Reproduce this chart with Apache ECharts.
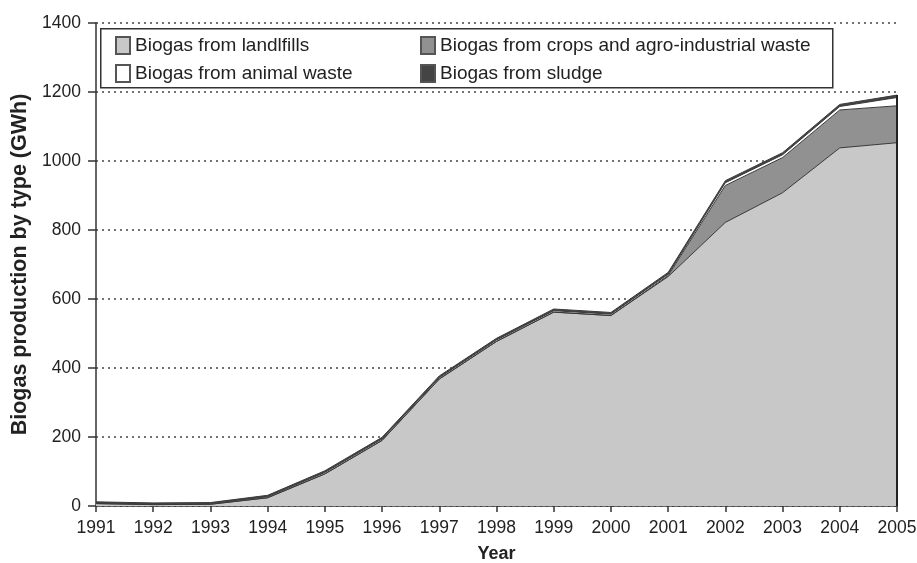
<!DOCTYPE html>
<html><head><meta charset="utf-8">
<script src="https://cdn.jsdelivr.net/npm/echarts@6/dist/echarts.min.js"></script>
<style>html,body{margin:0;padding:0;background:#fff}#c{width:917px;height:563px}</style>
</head><body><div id="c"></div>
<script>
const years = ['1991','1992','1993','1994','1995','1996','1997','1998','1999','2000','2001','2002','2003','2004','2005'];
const landfills = [7, 4, 5, 24, 93, 190, 368, 477, 562, 552, 665, 822, 908, 1038, 1053];
const crops     = [0, 0, 0, 0, 0, 0, 0, 0, 0, 0, 3, 107, 102, 110, 107];
const animal    = [2, 2, 2, 3, 4, 4, 4, 4, 4, 4, 4, 8, 8, 10, 24];
const sludge    = [3, 3, 3, 4, 5, 5, 5, 5, 5, 5, 5, 6, 6, 6, 7];
const yTicks = [0, 200, 400, 600, 800, 1000, 1200, 1400];

const names = ['Biogas from landlfills', 'Biogas from crops and agro-industrial waste', 'Biogas from animal waste', 'Biogas from sludge'];
const fills = ['#c8c8c8', '#919191', '#ffffff', '#444444'];
const seriesData = [landfills, crops, animal, sludge];
const lastIdx = years.length - 1;
const total = landfills[lastIdx] + crops[lastIdx] + animal[lastIdx] + sludge[lastIdx];
const font = 'Liberation Sans, Arial, sans-serif';

const series = seriesData.map((d, i) => ({
  name: names[i], type: 'line', stack: 'all', data: d, symbol: 'none',
  lineStyle: { color: '#3a3a3a', width: 1 },
  itemStyle: { color: fills[i], borderColor: '#555', borderWidth: 1 },
  areaStyle: { color: fills[i], opacity: 1 },
  z: 2
}));
series[0].markLine = {
  symbol: 'none', silent: true, label: { show: false },
  lineStyle: { color: '#222', width: 2, type: 'solid' },
  data: [[{ coord: [years[lastIdx], 0] }, { coord: [years[lastIdx], total] }]]
};

const legendCommon = {
  orient: 'vertical', itemWidth: 14, itemHeight: 17, itemGap: 9,
  icon: 'rect', textStyle: { fontFamily: font, fontSize: 19, color: '#222' },
  selectedMode: false
};

const chart = echarts.init(document.getElementById('c'));
chart.setOption({
  animation: false,
  grid: { left: 96, right: 20, top: 23, bottom: 57, outerBoundsMode: 'none', containLabel: false },
  xAxis: {
    type: 'category', data: years, boundaryGap: false,
    name: 'Year', nameLocation: 'middle', nameGap: 39,
    nameTextStyle: { fontFamily: font, fontSize: 18, fontWeight: 'bold', color: '#222' },
    axisLine: { lineStyle: { color: '#333', width: 1.5 } },
    axisTick: { show: true, length: 6, alignWithLabel: true, lineStyle: { color: '#333', width: 1.5 } },
    axisLabel: { fontFamily: font, fontSize: 17.5, color: '#222', margin: 13, interval: 0 },
    splitLine: { show: false }
  },
  yAxis: {
    type: 'value', min: yTicks[0], max: yTicks[yTicks.length - 1], interval: 200,
    name: 'Biogas production by type (GWh)', nameLocation: 'middle', nameGap: 64,
    nameTextStyle: { fontFamily: font, fontSize: 21.5, fontWeight: 'bold', color: '#222' },
    axisLine: { show: true, lineStyle: { color: '#333', width: 1.5 } },
    axisTick: { show: true, length: 8, lineStyle: { color: '#333', width: 1.5 } },
    axisLabel: { fontFamily: font, fontSize: 17.5, color: '#222', margin: 15, formatter: v => String(v) },
    splitLine: { show: true, lineStyle: { color: '#444', width: 1.5, type: [2, 4] } }
  },
  legend: [
    Object.assign({}, legendCommon, { left: 110, top: 31, data: [names[0], names[2]] }),
    Object.assign({}, legendCommon, { left: 415, top: 31, data: [names[1], names[3]] })
  ],
  graphic: [{
    type: 'rect', left: 100, top: 28, z: 0,
    shape: { width: 732, height: 59 },
    style: { fill: '#fff', stroke: '#333', lineWidth: 1.5 }
  }],
  series: series
});
</script></body></html>
